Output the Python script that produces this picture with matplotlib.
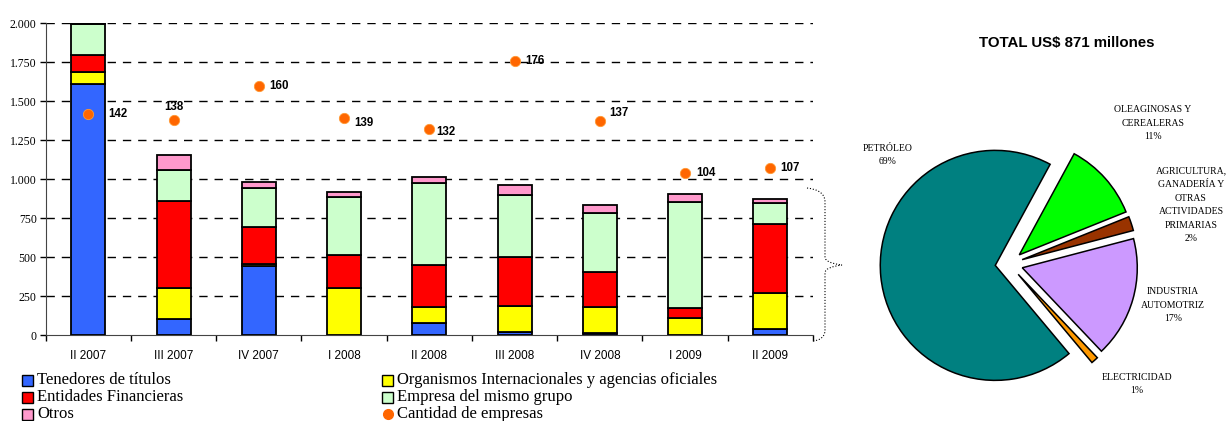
import matplotlib
matplotlib.use('Agg')
import matplotlib.pyplot as plt
from matplotlib.path import Path
from matplotlib.patches import PathPatch, Rectangle, Circle

# datos (millones de US$ por trimestre, por tipo de acreedor)
trimestres = ['II 2007', 'III 2007', 'IV 2007', 'I 2008', 'II 2008',
              'III 2008', 'IV 2008', 'I 2009', 'II 2009']
tenedores = [1610, 103, 445, 0, 79, 19, 10, 0, 41]
organismos = [78, 200, 10, 302, 103, 167, 172, 107, 229]
entidades = [110, 556, 240, 213, 269, 317, 224, 64, 442]
mismo_grupo = [198, 201, 248, 371, 524, 395, 375, 680, 135]
otros = [5, 94, 39, 34, 39, 65, 53, 54, 24]
cantidad = [142, 138, 160, 139, 132, 176, 137, 104, 107]

# torta: sectores del último trimestre (orden horario)
sectores = ['OLEAGINOSAS Y\nCEREALERAS',
            'AGRICULTURA,\nGANADERÍA Y\nOTRAS\nACTIVIDADES\nPRIMARIAS',
            'INDUSTRIA\nAUTOMOTRIZ', 'ELECTRICIDAD', 'PETRÓLEO']
participacion = [11, 2, 17, 1, 69]

W, H = 1229, 421
SERIF = 'Liberation Serif'
SANS = 'Liberation Sans'

fig = plt.figure(figsize=(W / 100, H / 100), dpi=100)


def fx(x):
    return x / W


def fy(y):
    return 1 - y / H


# --- barras apiladas ---
ax = fig.add_axes([fx(45.7), fy(335), fx(813) - fx(45.7), fy(23.3) - fy(335)])
series = [
    (tenedores, '#3366FF', 'Tenedores de títulos'),
    (organismos, '#FFFF00', 'Organismos Internacionales y agencias oficiales'),
    (entidades, '#FF0000', 'Entidades Financieras'),
    (mismo_grupo, '#CCFFCC', 'Empresa del mismo grupo'),
    (otros, '#FF99CC', 'Otros'),
]
x = list(range(len(trimestres)))
base = [0] * len(trimestres)
for vals, col, lab in series:
    ax.bar(x, vals, 0.4, bottom=base, color=col, edgecolor='black',
           linewidth=1.3, zorder=3)
    base = [b + v for b, v in zip(base, vals)]

ax.set_xlim(-0.5, 8.5)
ax.set_ylim(0, 2000)
yt = list(range(0, 2001, 250))
ax.set_yticks(yt)
ax.set_yticklabels([f'{v:,}'.replace(',', '.') for v in yt],
                   fontfamily=SERIF, fontsize=8.5)
for v in yt[1:]:
    ax.axhline(v, color='black', lw=1, ls=(0, (6, 5)), zorder=1)
ax.set_xticks(x)
ax.set_xticklabels(trimestres, fontfamily=SANS, fontsize=8.5)
ax.set_xticks([i - 0.5 for i in range(len(trimestres) + 1)], minor=True)
ax.tick_params(axis='x', which='major', length=0, pad=11)
ax.tick_params(axis='x', which='minor', length=4, width=1, direction='out')
ax.tick_params(axis='y', length=4.5, width=1, direction='out', pad=2)
for s in ['top', 'right']:
    ax.spines[s].set_visible(False)
ax.spines['left'].set_color('#444444')
ax.spines['bottom'].set_color('#444444')

# cantidad de empresas (eje secundario oculto)
ax_c = ax.twinx()
ax_c.set_ylim(0, 200)
ax_c.axis('off')
ax_c.scatter(x, cantidad, s=55, color='#FF6600', edgecolors='#FF9933',
             linewidths=0.6, zorder=5)
offsets = [(20, 0), (0, 13), (10, 0), (10, -5), (7, -3), (11, 0),
           (9, 8), (11, 0), (10, 0)]
for xi, c, off in zip(x, cantidad, offsets):
    ax_c.annotate(str(c), (xi, c), xytext=off, textcoords='offset pixels',
                  ha='center' if off[0] == 0 else 'left', va='center',
                  fontfamily=SANS, fontweight='bold', fontsize=8.3)

# llave punteada
verts = [(807, 188), (825, 190), (825, 202), (825, 257), (825, 263),
         (842, 265), (825, 267), (825, 273), (825, 330), (825, 340),
         (813, 341)]
codes = [Path.MOVETO, Path.CURVE3, Path.CURVE3, Path.LINETO, Path.CURVE3,
         Path.CURVE3, Path.CURVE3, Path.CURVE3, Path.LINETO, Path.CURVE3,
         Path.CURVE3]
brace = PathPatch(Path([(fx(a), fy(b)) for a, b in verts], codes),
                  transform=fig.transFigure, fill=False, lw=0.8, ls=':',
                  edgecolor='black')
fig.add_artist(brace)

# --- torta ---
R = 115
cx, cy = 1009, 264
S = 3.2 * R
axp = fig.add_axes([fx(cx - S / 2), fy(cy + S / 2), S / W, S / H])
colores_pie = ['#00FF00', '#993300', '#CC99FF', '#FF9900', '#008080']
axp.pie(participacion, colors=colores_pie, startangle=61.5,
        counterclock=False, explode=[0.12] * 5, radius=1,
        wedgeprops=dict(edgecolor='black', linewidth=1.1))
axp.set_xlim(-1.6, 1.6)
axp.set_ylim(-1.6, 1.6)
axp.axis('off')

label_pos = [(1153, 123), (1191, 205), (1173, 305), (1137, 384), (888, 155)]
for nom, p, (lx, ly) in zip(sectores, participacion, label_pos):
    axp.text((lx - cx) / R, (cy - ly) / R, f'{nom}\n{p}%', ha='center',
             va='center', fontfamily=SERIF, fontsize=7, linespacing=1.65)

fig.text(fx(1067), fy(43), 'TOTAL US$ 871 millones', ha='center',
         va='center', fontfamily=SANS, fontweight='bold', fontsize=10.8)

# --- leyenda ---
ley = [
    (22, 380, '#3366FF', 'Tenedores de títulos'),
    (22, 397, '#FF0000', 'Entidades Financieras'),
    (22, 414, '#FF99CC', 'Otros'),
    (382, 380, '#FFFF00', 'Organismos Internacionales y agencias oficiales'),
    (382, 397, '#CCFFCC', 'Empresa del mismo grupo'),
]
for lx, ly, col, txt in ley:
    fig.add_artist(Rectangle((fx(lx), fy(ly + 5.5)), 11 / W, 11 / H,
                             transform=fig.transFigure, facecolor=col,
                             edgecolor='black', lw=1))
    fig.text(fx(lx + 15), fy(ly), txt, ha='left', va='center',
             fontfamily=SERIF, fontsize=12)
fig.add_artist(plt.Line2D([fx(388)], [fy(414)], marker='o', markersize=7,
                          color='#FF6600', transform=fig.transFigure))
fig.text(fx(397), fy(414), 'Cantidad de empresas', ha='left', va='center',
         fontfamily=SERIF, fontsize=12)

fig.savefig('out.png', dpi=100)
